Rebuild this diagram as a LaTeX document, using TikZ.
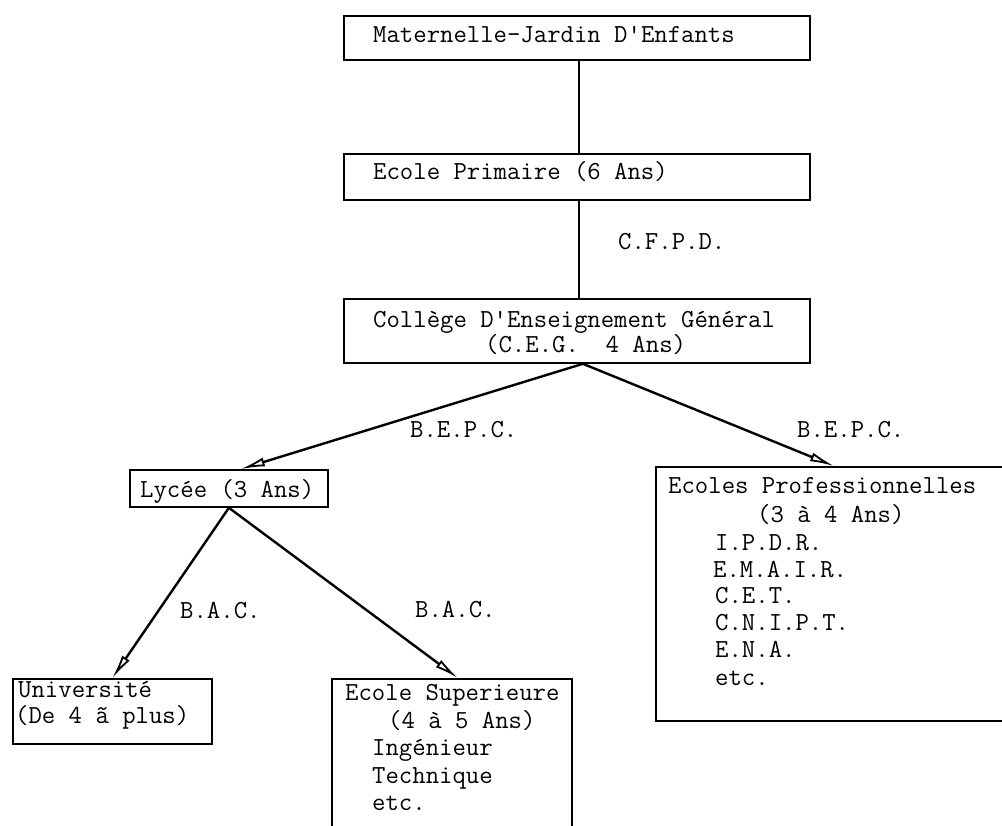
\documentclass[tikz,border=0pt]{standalone}
\usepackage{fontspec}
\usetikzlibrary{arrows.meta}
\begin{document}
\begin{tikzpicture}[x=1pt,y=-1pt,
  box/.style={draw, line width=1.8pt, inner sep=0pt, anchor=north west},
  txt/.style={anchor=base west, inner sep=0pt, font=\ttfamily\fontsize{26}{30}\selectfont},
  conn/.style={line width=2.4pt},
  arr/.style={conn, -{Latex[open, length=24pt, width=9pt, line width=1.8pt]}}
]
\useasboundingbox (0,0) rectangle (1002,826);

% boxes
\node[box, minimum width=466pt, minimum height=44pt] (mat) at (343,15) {};
\node[box, minimum width=466pt, minimum height=46pt] (prim) at (343,153) {};
\node[box, minimum width=466pt, minimum height=64pt] (ceg) at (343,298) {};
\node[box, minimum width=198pt, minimum height=37pt] (lyc) at (129,469) {};
\node[box, minimum width=360pt, minimum height=254pt] (pro) at (655,466) {};
\node[box, minimum width=199pt, minimum height=65pt] (univ) at (12,678) {};
\node[box, minimum width=240pt, minimum height=170pt] (sup) at (331,678) {};

% texts
\node[txt] (tmat) at (373,43) {Maternelle-Jardin D'Enfants};
\node[txt] (tprim) at (373,180) {Ecole Primaire (6 Ans)};
\node[txt] (tceg1) at (373,328) {Collège D'Enseignement Général};
\node[txt] (tceg2) at (485,353) {(C.E.G.\ \ 4 Ans)};
\node[txt] (tlyc) at (140,497) {Lycée (3 Ans)};

\node[txt] (tpro1) at (668,493) {Ecoles Professionnelles};
\node[txt] (tpro2) at (757,522) {(3 à 4 Ans)};
\node[txt] (tpro3) at (715,550) {I.P.D.R.};
\node[txt] (tpro4) at (713,577) {E.M.A.I.R.};
\node[txt] (tpro5) at (715,603) {C.E.T.};
\node[txt] (tpro6) at (715,630) {C.N.I.P.T.};
\node[txt] (tpro7) at (715,657) {E.N.A.};
\node[txt] (tpro8) at (715,685) {etc.};

\node[txt] (tuni1) at (18,697) {Université};
\node[txt] (tuni2) at (15,723) {(De 4 ã plus)};

\node[txt] (tsup1) at (345,700) {Ecole Superieure};
\node[txt] (tsup2) at (388,728) {(4 à 5 Ans)};
\node[txt] (tsup3) at (372,755) {Ingénieur};
\node[txt] (tsup4) at (372,783) {Technique};
\node[txt] (tsup5) at (372,810) {etc.};

% edge labels
\node[txt] (lcfpd) at (618,250) {C.F.P.D.};
\node[txt] (lbepc1) at (410,438) {B.E.P.C.};
\node[txt] (lbepc2) at (797,438) {B.E.P.C.};
\node[txt] (lbac1) at (180,618) {B.A.C.};
\node[txt] (lbac2) at (415,617) {B.A.C.};

% connectors
\draw[conn] ([xshift=2pt]mat.south) -- ([xshift=2pt]prim.north);
\draw[conn] ([xshift=2pt]prim.south) -- ([xshift=2pt]ceg.north);
\draw[arr] ([xshift=6pt]ceg.south) -- ([xshift=12pt]lyc.north);
\draw[arr] ([xshift=6pt]ceg.south) -- ([xshift=-2pt]pro.north);
\draw[arr] (lyc.south) -- (univ.north);
\draw[arr] (lyc.south) -- ([xshift=6pt]sup.north);
\end{tikzpicture}
\end{document}
